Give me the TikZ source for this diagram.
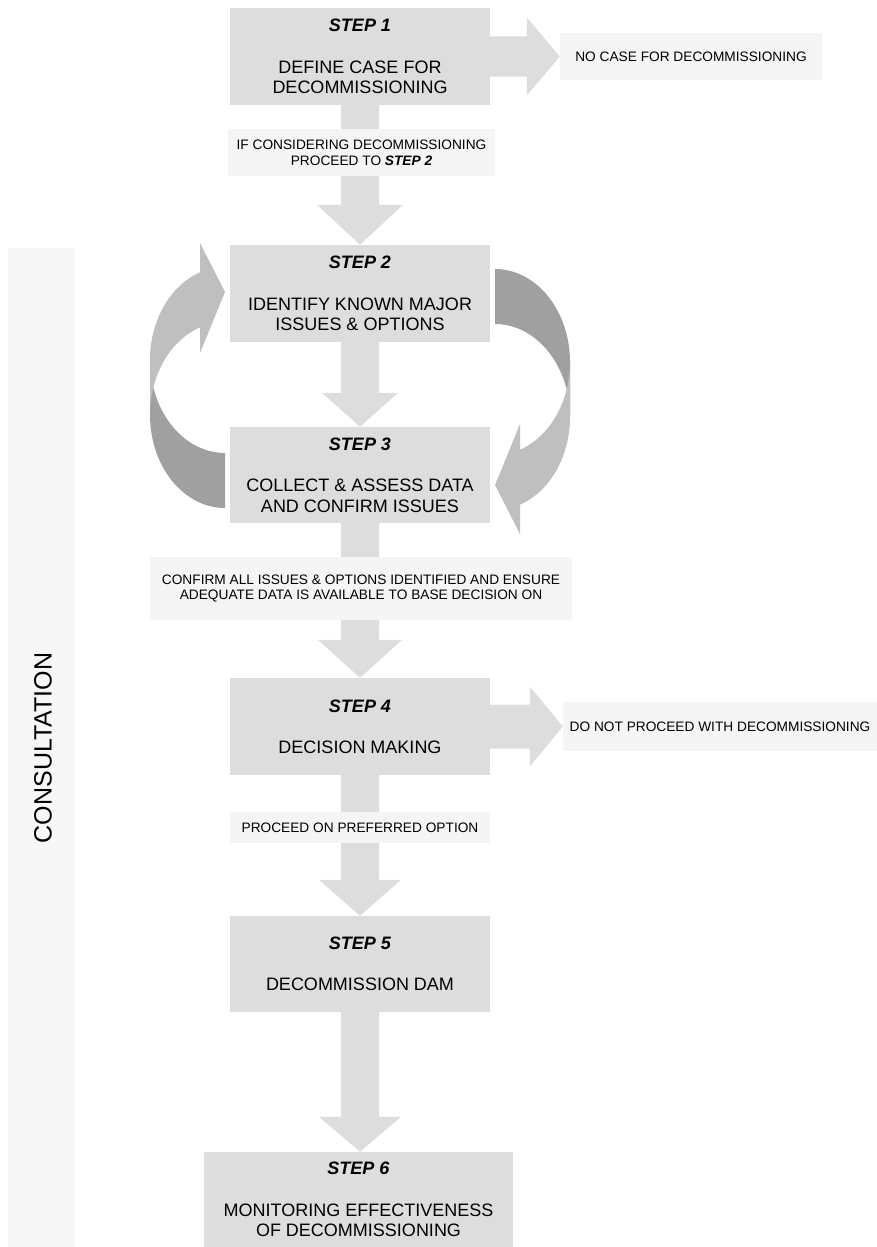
\documentclass[tikz,border=0pt]{standalone}
\usepackage{fontspec}
\setmainfont{Liberation Sans}
\usetikzlibrary{calc}
\pgfdeclarelayer{bg}
\pgfsetlayers{bg,main}
\definecolor{boxc}{HTML}{DDDDDD}
\definecolor{notec}{HTML}{F5F5F5}
\definecolor{barc}{HTML}{F7F7F7}
\definecolor{lightc}{HTML}{BFBFBF}
\definecolor{darkc}{HTML}{A0A0A0}
% straight block arrow downwards: from, to, head length, head half width
\newcommand\dnarrow[4]{%
  \coordinate (tipc) at (#1.south |- #2.north);
  \fill[arr] ($(#1.south)+(-19,0)$) -- ($(tipc)+(-19,-#3)$) -- ($(tipc)+(-#4,-#3)$) -- (tipc)
     -- ($(tipc)+(#4,-#3)$) -- ($(tipc)+(19,-#3)$) -- ($(#1.south)+(19,0)$) -- cycle;}
% block arrow to the right: from, to, head length, head half width, shaft half width
\newcommand\rtarrow[5]{%
  \fill[arr] ($(#1.east)+(0,-#5)$) -- ($(#2.west)+(-#3,-#5)$) -- ($(#2.west)+(-#3,-#4)$) -- (#2.west)
     -- ($(#2.west)+(-#3,#4)$) -- ($(#2.west)+(-#3,#5)$) -- ($(#1.east)+(0,#5)$) -- cycle;}
% curved block arrow (left one; the right one is its point reflection)
\newcommand\curvedarr{%
  \fill[darkc] plot[domain=180:90,samples=50] ({225+75*cos(\x)},{360+93*sin(\x)})
     -- plot[domain=90:180,samples=50] ({225+75*cos(\x)},{415+93*sin(\x)}) -- cycle;
  \fill[lightc] plot[domain=180:250.53,samples=50] ({225+75*cos(\x)},{360+93*sin(\x)})
     -- (200,243) -- (225,292) -- (200,353)
     -- plot[domain=250.53:180,samples=50] ({225+75*cos(\x)},{415+93*sin(\x)}) -- cycle;}
\begin{document}
\begin{tikzpicture}[x=1pt,y=-1pt,
  stepbox/.style={fill=boxc, minimum width=260pt, minimum height=97pt, inner sep=0pt,
    align=center, font=\fontsize{18}{20.7}\selectfont},
  note/.style={fill=notec, inner sep=0pt, align=center, font=\fontsize{13.7}{15.8}\selectfont},
  arr/.style={fill=boxc}]
\useasboundingbox (0,0) rectangle (877,1247);

\node[fill=barc, minimum width=67pt, minimum height=999pt, inner sep=0pt] (bar) at (41.5,747.5) {};
\node[rotate=90, inner sep=0pt, font=\fontsize{25}{30}\selectfont] (cons) at (43,748) {CONSULTATION};

\node[stepbox] (s1) at (360,56.5) {\textbf{\textit{STEP 1}}\\[20.7pt]DEFINE CASE FOR\\DECOMMISSIONING};
\node[note, minimum width=262pt, minimum height=47pt] (nocase) at (691,56.5) {NO CASE FOR DECOMMISSIONING};
\node[note, minimum width=267pt, minimum height=47pt] (ifc) at (361.5,152.5) {IF CONSIDERING DECOMMISSIONING\\PROCEED TO \textbf{\textit{STEP 2}}};
\node[stepbox] (s2) at (360,293.5) {\textbf{\textit{STEP 2}}\\[20.7pt]IDENTIFY KNOWN MAJOR\\ISSUES \& OPTIONS};
\node[stepbox, minimum height=96pt] (s3) at (360,475) {\textbf{\textit{STEP 3}}\\[20.7pt]COLLECT \& ASSESS DATA\\AND CONFIRM ISSUES};
\node[note, minimum width=422pt, minimum height=63pt] (conf) at (361,588.5) {CONFIRM ALL ISSUES \& OPTIONS IDENTIFIED AND ENSURE\\ADEQUATE DATA IS AVAILABLE TO BASE DECISION ON};
\node[stepbox] (s4) at (360,726.5) {\textbf{\textit{STEP 4}}\\[20.7pt]DECISION MAKING};
\node[note, minimum width=314pt, minimum height=49pt] (donot) at (720,726.5) {DO NOT PROCEED WITH DECOMMISSIONING};
\node[note, minimum width=260pt, minimum height=31pt] (proc) at (360,827.5) {PROCEED ON PREFERRED OPTION};
\node[stepbox, minimum height=96pt] (s5) at (360,964) {\textbf{\textit{STEP 5}}\\[20.7pt]DECOMMISSION DAM};
\node[stepbox, minimum width=309pt, minimum height=95pt] (s6) at (358.5,1199.5) {\textbf{\textit{STEP 6}}\\[20.7pt]MONITORING EFFECTIVENESS\\OF DECOMMISSIONING};

\begin{pgfonlayer}{bg}
\dnarrow{s1}{s2}{40}{43}
\dnarrow{s2}{s3}{34}{38}
\dnarrow{s3}{s4}{38}{42}
\dnarrow{s4}{s5}{36}{41}
\dnarrow{s5}{s6}{35}{41}
\rtarrow{s1}{nocase}{33}{39}{20}
\rtarrow{s4}{donot}{33}{40}{22}
\end{pgfonlayer}

\curvedarr
\begin{scope}[rotate around={180:(360,388.5)}]
\curvedarr
\end{scope}
\end{tikzpicture}
\end{document}
